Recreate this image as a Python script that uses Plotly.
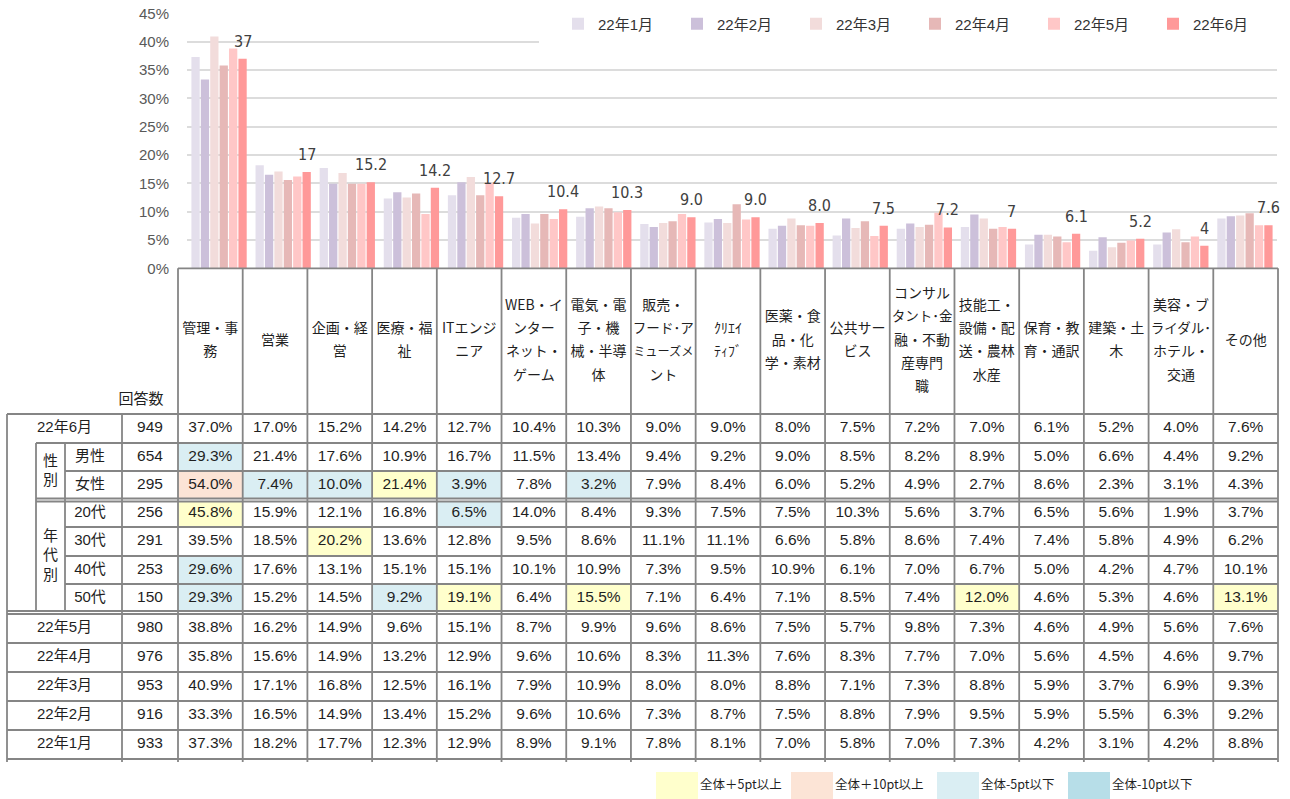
import plotly.graph_objects as go

# ---------------- data ----------------
header_lines = [
    ["管理・事", "務"],
    ["営業"],
    ["企画・経", "営"],
    ["医療・福", "祉"],
    ["ITエンジ", "ニア"],
    ["WEB・イ", "ンター", "ネット・", "ゲーム"],
    ["電気・電", "子・機", "械・半導", "体"],
    ["販売・", "フード･ア", "ミューズメ", "ント"],
    ["ｸﾘｴｲ", "ﾃｨﾌﾞ"],
    ["医薬・食", "品・化", "学・素材"],
    ["公共サー", "ビス"],
    ["コンサル", "タント･金", "融・不動", "産専門", "職"],
    ["技能工・", "設備・配", "送・農林", "水産"],
    ["保育・教", "育・通訳"],
    ["建築・土", "木"],
    ["美容・ブ", "ライダル･", "ホテル・", "交通"],
    ["その他"],
]
categories = ["".join(lines) for lines in header_lines]

months = ["22年1月", "22年2月", "22年3月", "22年4月", "22年5月", "22年6月"]
month_colors = ["#E4DFEC", "#CCC0DA", "#F2DCDB", "#E6B8B7", "#FFC7C7", "#FF9999"]

jun = [37.0, 17.0, 15.2, 14.2, 12.7, 10.4, 10.3, 9.0, 9.0, 8.0, 7.5, 7.2, 7.0, 6.1, 5.2, 4.0, 7.6]
male = [29.3, 21.4, 17.6, 10.9, 16.7, 11.5, 13.4, 9.4, 9.2, 9.0, 8.5, 8.2, 8.9, 5.0, 6.6, 4.4, 9.2]
female = [54.0, 7.4, 10.0, 21.4, 3.9, 7.8, 3.2, 7.9, 8.4, 6.0, 5.2, 4.9, 2.7, 8.6, 2.3, 3.1, 4.3]
age20 = [45.8, 15.9, 12.1, 16.8, 6.5, 14.0, 8.4, 9.3, 7.5, 7.5, 10.3, 5.6, 3.7, 6.5, 5.6, 1.9, 3.7]
age30 = [39.5, 18.5, 20.2, 13.6, 12.8, 9.5, 8.6, 11.1, 11.1, 6.6, 5.8, 8.6, 7.4, 7.4, 5.8, 4.9, 6.2]
age40 = [29.6, 17.6, 13.1, 15.1, 15.1, 10.1, 10.9, 7.3, 9.5, 10.9, 6.1, 7.0, 6.7, 5.0, 4.2, 4.7, 10.1]
age50 = [29.3, 15.2, 14.5, 9.2, 19.1, 6.4, 15.5, 7.1, 6.4, 7.1, 8.5, 7.4, 12.0, 4.6, 5.3, 4.6, 13.1]
may = [38.8, 16.2, 14.9, 9.6, 15.1, 8.7, 9.9, 9.6, 8.6, 7.5, 5.7, 9.8, 7.3, 4.6, 4.9, 5.6, 7.6]
apr = [35.8, 15.6, 14.9, 13.2, 12.9, 9.6, 10.6, 8.3, 11.3, 7.6, 8.3, 7.7, 7.0, 5.6, 4.5, 4.6, 9.7]
mar = [40.9, 17.1, 16.8, 12.5, 16.1, 7.9, 10.9, 8.0, 8.0, 8.8, 7.1, 7.3, 8.8, 5.9, 3.7, 6.9, 9.3]
feb = [33.3, 16.5, 14.9, 13.4, 15.2, 9.6, 10.6, 7.3, 8.7, 7.5, 8.8, 7.9, 9.5, 5.9, 5.5, 6.3, 9.2]
jan = [37.3, 18.2, 17.7, 12.3, 12.9, 8.9, 9.1, 7.8, 8.1, 7.0, 5.8, 7.0, 7.3, 4.2, 3.1, 4.2, 8.8]

jun_labels = ["37", "17", "15.2", "14.2", "12.7", "10.4", "10.3", "9.0", "9.0",
              "8.0", "7.5", "7.2", "7", "6.1", "5.2", "4", "7.6"]

month_series = [jan, feb, mar, apr, may, jun]

row_names = ["22年6月", "男性", "女性", "20代", "30代", "40代", "50代",
             "22年5月", "22年4月", "22年3月", "22年2月", "22年1月"]
row_counts = [949, 654, 295, 256, 291, 253, 150, 980, 976, 953, 916, 933]
row_values = [jun, male, female, age20, age30, age40, age50, may, apr, mar, feb, jan]
group_labels = [("性<br>別", 1, 2), ("年<br>代<br>別", 3, 6)]

key_labels = ["全体＋5pt以上", "全体＋10pt以上", "全体-5pt以下", "全体-10pt以下"]
key_colors = ["#FFFFCC", "#FCE4D6", "#DAEEF3", "#B7DEE8"]

# ---------------- geometry (pixels) ----------------
W, H = 1290, 799
PLOT_L, PLOT_R = 187, 1277
Y0_PX, Y45_PX = 268.3, 13.3
BARGAP = 0.12

COL0, COLW = 178.0, 1100.0 / 17
X_OUT, X_GRP, X_SUB, X_CNT = 7, 36, 65, 122
HEAD_TOP = 268.3
ROW_EDGES = [414, 443, 471, 500, 527, 556, 584, 612.5, 643, 672, 701, 730, 759]
DOUBLE_AFTER = {2, 6}  # rows followed by a double rule
LINE_C, LINE_W = "#858585", 1.8
TXT_C = "#1f1f1f"
JP = "Noto Sans CJK JP"
NUM = "Liberation Sans, Noto Sans CJK JP"
HEAD_SIZE, HEAD_MAXW = 14, 61


def col_left(j):
    return COL0 + j * COLW


def col_mid(j):
    return COL0 + (j + 0.5) * COLW


def row_top(i):
    y = ROW_EDGES[i]
    return y + 1.5 if (i - 1) in DOUBLE_AFTER else y


def row_bottom(i):
    y = ROW_EDGES[i + 1]
    return y - 1.5 if i in DOUBLE_AFTER else y


def row_mid(i):
    return (ROW_EDGES[i] + ROW_EDGES[i + 1]) / 2


def em_width(s):
    """Rough advance width of a header line in em units."""
    w = 0.0
    for ch in s:
        o = ord(ch)
        if o < 128:
            w += 0.3 if ch in "Iil" else 0.62
        elif 0xFF61 <= o <= 0xFF9F:
            w += 0.5
        else:
            w += 1.0
    return w


fig = go.Figure()

# ---------------- grouped bars ----------------
for name, color, vals in zip(months, month_colors, month_series):
    fig.add_trace(go.Bar(
        x=categories, y=vals, name=name,
        marker=dict(color=color, line=dict(width=0)),
        hoverinfo="skip",
    ))

slot = (1 - BARGAP) / len(months)
last_offset = -(1 - BARGAP) / 2 + slot * (len(months) - 0.5)
annotations = []
for i, (v, lab) in enumerate(zip(jun, jun_labels)):
    annotations.append(dict(
        x=i + last_offset, y=v, xref="x", yref="y", text=lab,
        showarrow=False, yanchor="bottom", xanchor="center", yshift=6,
        font=dict(family="Liberation Sans Narrow, DejaVu Sans Condensed, Liberation Sans",
                  size=16, color="#404040"),
    ))

# ---------------- table ----------------
shapes = []


def add_rect(x0, x1, y0, y1, color):
    shapes.append(dict(type="rect", xref="x2", yref="y2", x0=x0, x1=x1, y0=y0, y1=y1,
                       fillcolor=color, line=dict(width=0), layer="below"))


def hline(y, x0, x1):
    shapes.append(dict(type="line", xref="x2", yref="y2", x0=x0, x1=x1, y0=y, y1=y,
                       line=dict(color=LINE_C, width=LINE_W), layer="below"))


def vline(x, y0, y1):
    shapes.append(dict(type="line", xref="x2", yref="y2", x0=x, x1=x, y0=y0, y1=y1,
                       line=dict(color=LINE_C, width=LINE_W), layer="below"))


# highlighted cells: segment rows compared with the overall 22年6月 row
for i in range(1, 7):
    for j, v in enumerate(row_values[i]):
        d = round(v - jun[j], 1)
        if d >= 10:
            c = key_colors[1]
        elif d >= 5:
            c = key_colors[0]
        elif d <= -10:
            c = key_colors[3]
        elif d <= -5:
            c = key_colors[2]
        else:
            continue
        add_rect(col_left(j), col_left(j + 1), row_top(i), row_bottom(i), c)

RIGHT = col_left(17)
hline(HEAD_TOP, COL0, RIGHT)
for k, y in enumerate(ROW_EDGES):
    if k in (1, 3):
        x0 = X_GRP
    elif 2 <= k <= 6:
        x0 = X_SUB
    else:
        x0 = X_OUT
    if (k - 1) in DOUBLE_AFTER:
        hline(y - 1.5, x0, RIGHT)
        hline(y + 1.5, x0, RIGHT)
    else:
        hline(y, x0, RIGHT)

BOTTOM = ROW_EDGES[-1] + 3
vline(X_OUT, ROW_EDGES[0], BOTTOM)
vline(X_GRP, ROW_EDGES[1], ROW_EDGES[7] - 1.5)
vline(X_SUB, ROW_EDGES[1], ROW_EDGES[7] - 1.5)
vline(X_CNT, ROW_EDGES[0], BOTTOM)
for j in range(18):
    vline(col_left(j), HEAD_TOP, BOTTOM)

# cell values
cx, cy, ct = [], [], []
for i, vals in enumerate(row_values):
    for j, v in enumerate(vals):
        cx.append(col_mid(j))
        cy.append(row_mid(i))
        ct.append(f"{v:.1f}%")
fig.add_trace(go.Scatter(x=cx, y=cy, text=ct, mode="text", xaxis="x2", yaxis="y2",
                         textfont=dict(family=NUM, size=15.5, color=TXT_C),
                         showlegend=False, hoverinfo="skip"))

# response counts
fig.add_trace(go.Scatter(x=[(X_CNT + COL0) / 2] * len(row_counts),
                         y=[row_mid(i) for i in range(len(row_counts))],
                         text=[str(n) for n in row_counts], mode="text",
                         xaxis="x2", yaxis="y2",
                         textfont=dict(family=NUM, size=15.5, color=TXT_C),
                         showlegend=False, hoverinfo="skip"))

# row labels
lx, ly, lt = [], [], []
for i, name in enumerate(row_names):
    lx.append(90 if 1 <= i <= 6 else (X_OUT + X_CNT) / 2)
    ly.append(row_mid(i))
    lt.append(name)
for text, r0, r1 in group_labels:
    lx.append((X_GRP + X_SUB) / 2)
    ly.append((ROW_EDGES[r0] + ROW_EDGES[r1 + 1]) / 2)
    lt.append(text)
lx.append((X_CNT + COL0) / 2 - 9)
ly.append(400)
lt.append("回答数")
fig.add_trace(go.Scatter(x=lx, y=ly, text=lt, mode="text", xaxis="x2", yaxis="y2",
                         textfont=dict(family=NUM, size=15, color=TXT_C),
                         showlegend=False, hoverinfo="skip"))

# header (category names, one point per wrapped line)
hx, hy, ht, hs = [], [], [], []
HEAD_MID, LINE_STEP = (HEAD_TOP + ROW_EDGES[0]) / 2, 23.3
for j, lines in enumerate(header_lines):
    n = len(lines)
    for k, s in enumerate(lines):
        hx.append(col_mid(j))
        hy.append(HEAD_MID + (k - (n - 1) / 2) * LINE_STEP)
        ht.append(s)
        hs.append(min(HEAD_SIZE, HEAD_MAXW / em_width(s)))
fig.add_trace(go.Scatter(x=hx, y=hy, text=ht, mode="text", xaxis="x2", yaxis="y2",
                         textfont=dict(family=JP, size=hs, color=TXT_C),
                         showlegend=False, hoverinfo="skip"))

# colour key under the table
KEY_X = [656, 791, 937, 1068]
KEY_W, KEY_Y0, KEY_Y1 = 42, 772, 800
for x0, c in zip(KEY_X, key_colors):
    add_rect(x0, x0 + KEY_W, KEY_Y0, KEY_Y1, c)
fig.add_trace(go.Scatter(x=[x + KEY_W + 2 for x in KEY_X], y=[786] * 4, text=key_labels,
                         mode="text", textposition="middle right", xaxis="x2", yaxis="y2",
                         textfont=dict(family=JP, size=12.5, color=TXT_C),
                         showlegend=False, hoverinfo="skip"))

# white panel behind the legend (hides the upper gridlines there)
shapes.append(dict(type="rect", xref="paper", yref="paper",
                   x0=539 / W, x1=1279 / W, y0=1 - 55 / H, y1=1.0,
                   fillcolor="white", line=dict(width=0), layer="above"))

fig.update_layout(
    width=W, height=H,
    margin=dict(l=0, r=0, t=0, b=0, autoexpand=False),
    paper_bgcolor="white", plot_bgcolor="rgba(0,0,0,0)",
    barmode="group", bargap=BARGAP, bargroupgap=0.12,
    showlegend=True,
    legend=dict(orientation="h", x=558 / W, y=1 - 24 / H, xanchor="left", yanchor="middle",
                entrywidth=74, entrywidthmode="pixels", traceorder="normal",
                bgcolor="rgba(0,0,0,0)",
                font=dict(family=NUM, size=15, color="#333333")),
    xaxis=dict(domain=[PLOT_L / W, PLOT_R / W], range=[-0.5, 16.5], type="category",
               showticklabels=False, showgrid=False, zeroline=False, showline=False,
               fixedrange=True, automargin=False),
    yaxis=dict(domain=[1 - Y0_PX / H, 1 - Y45_PX / H], range=[0, 45], dtick=5,
               ticksuffix="%", showgrid=True, gridcolor="#DCDCDC", gridwidth=2,
               zeroline=False, showline=False, ticks="", ticklabelstandoff=17,
               tickfont=dict(family=NUM, size=15, color="#595959"), fixedrange=True,
               automargin=False),
    xaxis2=dict(domain=[0, 1], range=[0, W], visible=False, fixedrange=True, automargin=False),
    yaxis2=dict(domain=[0, 1], range=[H, 0], visible=False, fixedrange=True, anchor="x2",
                automargin=False),
    shapes=shapes,
    annotations=annotations,
)
fig.update_traces(selector=dict(type="scatter"), cliponaxis=False)

fig.write_html("out.html")
